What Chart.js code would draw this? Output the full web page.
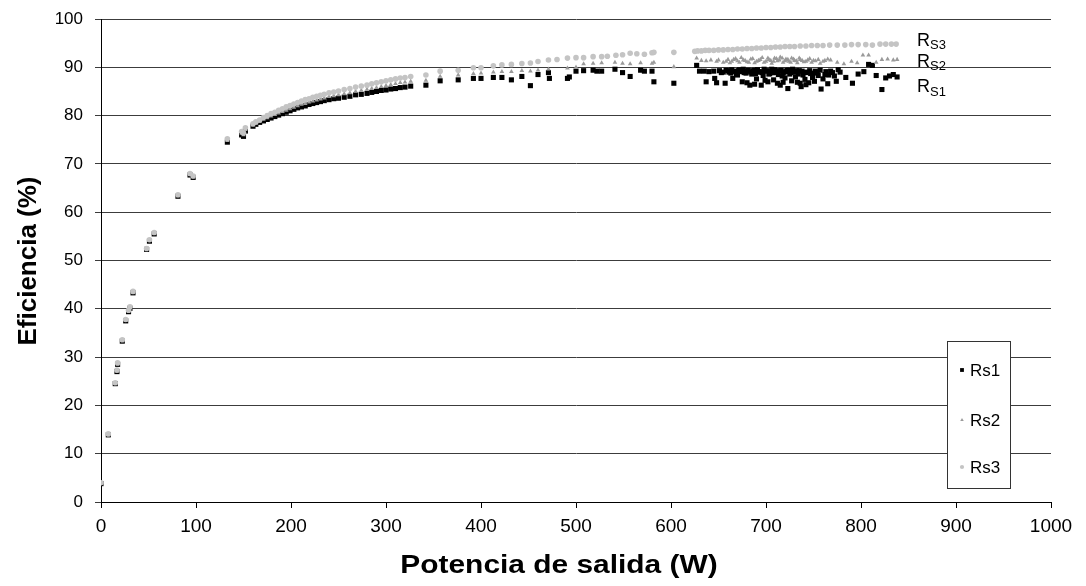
<!DOCTYPE html>
<html><head><meta charset="utf-8">
<script src="https://cdn.jsdelivr.net/npm/chart.js@4.4.0/dist/chart.umd.min.js"></script>
<style>html,body{margin:0;padding:0;background:#fff;}#c{display:block;}</style>
</head><body>
<canvas id="c" width="1086" height="586"></canvas>
<script>
// ---- tick labels ----
const xTickLabels = [0,100,200,300,400,500,600,700,800,900,1000];
const yTickLabels = [0,10,20,30,40,50,60,70,80,90,100];
const seriesNames = ['Rs1','Rs2','Rs3'];

// ---- Rs1 (black squares) ----
const rs1X = [0,7.7,15,16.8,17.5,22.4,26,29,30.5,33.7,48,51,56,81,93.7,97,133,148,150,152,160,
 163,167,171,175,179,183,187,191,195,199,203,207,211,215,219,223,227,231,235,240,245,250,256,262,268,274,280,285,290,295,300,305,310,315,320,326,
 342,357,376,392,400,413,422,432,443,452,460,471,472,491,493,500,508,518,522,527,541,549,557,568,572,580,582,603,
 627,630,635,640,645,637,646,648,655,657,660,663,665,668,670,672,675,677,680,683,685,688,690,692,695,697,700,702,704,706,708,710,712,714,715,717,719,720,722,723,725,727,729,731,733,735,736,737,739,741,743,745,747,749,752,755,758,760,763,766,770,774,778,784,791,797,803,808,812,816,822,826,830,834,838,
 651,653,658,661,664,666,669,671,674,676,679,681,684,686,689,691,694,696,698,701,703,705,707,709,711,713,716,718,721,724,726,728,730,732,734,738,742,746,750,754,757,762,768,772,776,680,688,699,718,742,751,765];
const rs1Y = [3.8,13.9,24.5,27.0,28.5,33.3,37.5,39.4,40.1,43.3,52.3,54.0,55.5,63.3,67.7,67.2,74.5,76.0,75.7,76.8,77.8,
 78.2,78.6,78.9,79.2,79.5,79.8,80.1,80.4,80.7,81.0,81.3,81.6,81.8,82.0,82.3,82.5,82.7,82.9,83.1,83.3,83.5,83.6,83.8,84.0,84.3,84.4,84.6,84.8,85.0,85.2,85.3,85.5,85.6,85.8,85.9,86.1,
 86.3,87.2,87.4,87.7,87.7,87.9,87.9,87.4,88.1,86.2,88.5,88.9,87.7,87.7,88.0,89.2,89.3,89.4,89.2,89.2,89.6,88.9,88.1,89.4,89.2,89.2,87.0,86.7,
 90.4,89.2,89.2,89.1,89.2,87.0,87.7,86.8,89.0,86.7,89.3,88.8,87.7,89.1,88.4,89.5,87.0,88.9,89.2,86.3,88.6,89.4,87.6,89.0,86.3,88.3,89.2,87.0,88.7,89.6,87.4,88.9,86.7,89.3,86.3,88.2,89.0,87.8,89.4,85.6,88.6,87.2,89.1,88.0,86.9,89.3,86.7,86.0,88.4,87.5,89.0,86.8,88.7,87.9,89.2,88.3,85.5,87.6,89.1,88.4,88.9,87.1,89.0,87.9,86.7,88.6,89.1,90.6,90.4,88.3,85.4,87.8,88.2,88.5,88.0,
 89.3,88.9,89.4,89.0,89.5,89.2,88.7,89.3,89.1,89.6,88.8,89.4,89.0,89.3,88.7,89.5,89.1,88.9,89.6,89.3,88.6,89.1,88.9,89.5,89.2,88.5,89.4,88.8,89.1,89.4,88.9,89.6,89.0,89.3,88.6,89.2,88.9,89.3,88.8,89.0,89.4,88.5,89.2,88.2,89.5,86.8,86.5,87.3,86.9,86.4,87.1,86.6];

// ---- Rs2 (grey triangles) ----
const rs2X = [0,7.7,15,16.8,17.5,22.4,26,29,30.5,33.7,48,51,56,81,93.7,97,133,148,150,152,160,
 163,167,171,175,179,183,187,191,195,199,203,207,211,215,219,223,227,231,235,240,245,250,256,262,268,274,280,285,290,295,300,305,310,315,320,326,
 342,357,376,392,400,413,422,432,443,452,460,471,491,500,508,518,527,541,549,557,568,580,582,603,
 627,632,637,642,648,655,660,664,668,672,676,680,684,688,692,696,700,703,706,709,712,715,718,721,724,727,730,733,736,740,744,748,752,757,762,768,775,782,790,796,802,808,816,822,828,834,838,
 650,658,662,666,670,674,678,682,686,690,694,698,702,705,708,711,714,717,720,723,726,729,732,735,738,742,746,750,755,760,765];
const rs2Y = [3.9,14.0,24.6,27.1,28.6,33.4,37.6,39.5,40.2,43.4,52.4,54.1,55.6,63.4,67.8,67.3,74.8,76.3,76.0,77.1,78.0,
 78.4,78.8,79.2,79.5,79.9,80.2,80.5,80.8,81.1,81.4,81.7,82.0,82.3,82.5,82.8,83.0,83.2,83.4,83.6,83.9,84.1,84.3,84.5,84.7,85.0,85.2,85.4,85.6,85.8,86.0,86.2,86.4,86.6,86.8,86.9,87.1,
 87.3,88.1,88.4,88.7,88.8,89.0,89.1,89.1,89.3,89.2,89.4,89.6,89.8,90.0,90.7,90.8,90.9,91.0,90.8,90.7,90.9,90.8,91.0,90.1,
 91.9,91.4,91.3,91.5,91.2,91.0,91.6,91.2,91.8,91.0,91.5,91.1,91.7,90.9,91.4,92.0,91.2,91.6,90.8,91.9,91.3,92.1,91.0,91.7,91.2,91.9,91.4,90.9,91.6,91.1,91.5,91.0,91.3,90.8,91.4,91.5,91.0,90.7,91.2,90.9,92.5,92.5,91.0,91.6,91.7,91.5,91.6,
 91.5,91.2,90.9,91.6,91.3,92.0,91.4,91.0,91.8,91.2,91.6,91.0,91.9,91.4,91.2,91.8,91.5,91.9,91.3,91.6,91.0,91.7,91.3,91.9,91.4,91.2,91.8,91.4,91.6,91.2,91.7];

// ---- Rs3 (light grey circles) ----
const rs3X = [0,7.7,15,16.8,17.5,22.4,26,29,30.5,33.7,48,51,56,81,93.7,97,133,148,150,152,160,
 163,167,171,175,179,183,187,191,195,199,203,207,211,215,219,223,227,231,235,240,245,250,256,262,268,274,280,285,290,295,300,305,310,315,320,326,
 342,357,376,392,400,413,422,432,443,452,460,471,480,491,500,508,518,527,533,542,549,557,564,572,580,582,603,
 625,628,632,636,640,645,650,655,660,665,670,675,680,685,690,695,700,705,710,715,720,725,730,736,742,748,754,760,767,775,783,790,797,805,812,820,826,832,837];
const rs3Y = [4.0,14.1,24.7,27.3,28.8,33.6,37.8,39.7,40.4,43.6,52.5,54.3,55.8,63.6,68.0,67.5,75.2,76.7,76.4,77.5,78.3,
 78.7,79.1,79.6,80.0,80.4,80.7,81.1,81.4,81.8,82.1,82.4,82.7,83.0,83.3,83.5,83.8,84.0,84.2,84.4,84.7,84.9,85.1,85.4,85.6,85.9,86.1,86.3,86.6,86.8,87.0,87.2,87.4,87.6,87.8,87.9,88.1,
 88.4,89.2,89.4,89.9,89.9,90.3,90.5,90.6,90.8,90.9,91.2,91.5,91.6,91.9,92.0,92.0,92.2,92.2,92.3,92.5,92.6,92.9,92.8,92.7,93.0,93.1,93.1,
 93.3,93.4,93.4,93.5,93.5,93.5,93.6,93.6,93.7,93.7,93.8,93.8,93.9,93.9,94.0,94.0,94.1,94.1,94.2,94.2,94.3,94.3,94.3,94.4,94.4,94.5,94.5,94.5,94.6,94.6,94.6,94.7,94.7,94.7,94.6,94.8,94.8,94.8,94.8];

const toPts = (xs, ys) => xs.map((x, i) => ({x: x, y: ys[i]}));

const FONT = "Arial, 'Liberation Sans', sans-serif";
const styles = {
  Rs1: {pointStyle: 'rect', radius: 3.6, color: '#000000'},
  Rs2: {pointStyle: 'triangle', radius: 2.7, color: '#9a9a9a'},
  Rs3: {pointStyle: 'circle', radius: 2.8, color: '#c4c4c4'}
};

const overlay = {
  id: 'overlay',
  afterDraw(chart) {
    const ctx = chart.ctx;
    ctx.save();
    // axis titles
    ctx.fillStyle = '#000';
    ctx.font = "bold 26px " + FONT;
    ctx.textAlign = 'center';
    ctx.textBaseline = 'middle';
    ctx.save();
    ctx.translate(559, 566);
    ctx.scale(1.15, 1);
    ctx.fillText('Potencia de salida (W)', 0, 0);
    ctx.restore();
    ctx.save();
    ctx.translate(29, 261);
    ctx.rotate(-Math.PI / 2);
    ctx.fillText('Eficiencia (%)', 0, 0);
    ctx.restore();

    // R_S labels
    const rl = [['S3', 46, 49], ['S2', 67, 70], ['S1', 92, 96]];
    ctx.textAlign = 'left';
    ctx.textBaseline = 'alphabetic';
    rl.forEach(([sub, b1, b2]) => {
      ctx.font = "18px " + FONT;
      ctx.fillText('R', 917, b1);
      ctx.font = "13px " + FONT;
      ctx.fillText(sub, 930, b2);
    });

    // legend box
    ctx.fillStyle = '#fff';
    ctx.fillRect(947, 342, 63, 147);
    ctx.strokeStyle = '#333';
    ctx.lineWidth = 1;
    ctx.strokeRect(947.5, 341.5, 63, 147);
    const ly = [370, 420, 467];
    seriesNames.forEach((n, i) => {
      const s = styles[n];
      ctx.fillStyle = s.color;
      Chart.helpers.drawPoint(ctx, {pointStyle: s.pointStyle, radius: s.radius * 0.75, rotation: 0, borderWidth: 0}, 962, ly[i]);
      ctx.fillStyle = '#000';
      ctx.font = "17px " + FONT;
      ctx.textBaseline = 'middle';
      ctx.fillText(n, 970, ly[i] + 1);
    });
    ctx.restore();
  }
};

const datasets = [
  {label: 'Rs1', data: toPts(rs1X, rs1Y), order: 2},
  {label: 'Rs2', data: toPts(rs2X, rs2Y), order: 1},
  {label: 'Rs3', data: toPts(rs3X, rs3Y), order: 0}
].map(d => {
  const s = styles[d.label];
  return Object.assign(d, {
    pointStyle: s.pointStyle, pointRadius: s.radius, pointHoverRadius: s.radius,
    backgroundColor: s.color, borderColor: s.color, pointBorderWidth: 0, showLine: false
  });
});

new Chart(document.getElementById('c'), {
  type: 'scatter',
  data: {datasets},
  options: {
    responsive: false,
    devicePixelRatio: 1,
    animation: false,
    events: [],
    layout: {padding: {top: 19, right: 35, left: 0, bottom: 0}},
    plugins: {legend: {display: false}, tooltip: {enabled: false}},
    scales: {
      x: {
        type: 'linear', min: 0, max: 1000,
        afterFit: s => { s.height = 84; },
        afterBuildTicks: s => { s.ticks = xTickLabels.map(v => ({value: v})); },
        ticks: {font: {size: 19, family: FONT}, color: '#000', padding: 7, maxRotation: 0, callback: v => String(v)},
        grid: {drawOnChartArea: false, drawTicks: true, tickLength: 6, color: '#000'},
        border: {color: '#000', width: 1}
      },
      y: {
        type: 'linear', min: 0, max: 100,
        afterFit: s => { s.width = 101; s.paddingTop = 0; s.paddingBottom = 0; },
        afterBuildTicks: s => { s.ticks = yTickLabels.map(v => ({value: v})); },
        ticks: {font: {size: 17, family: FONT}, color: '#000', padding: 12, callback: v => String(v)},
        grid: {color: '#3c3c3c', tickLength: 6, lineWidth: 1},
        border: {color: '#000', width: 1}
      }
    }
  },
  plugins: [overlay]
});
</script>
</body></html>
